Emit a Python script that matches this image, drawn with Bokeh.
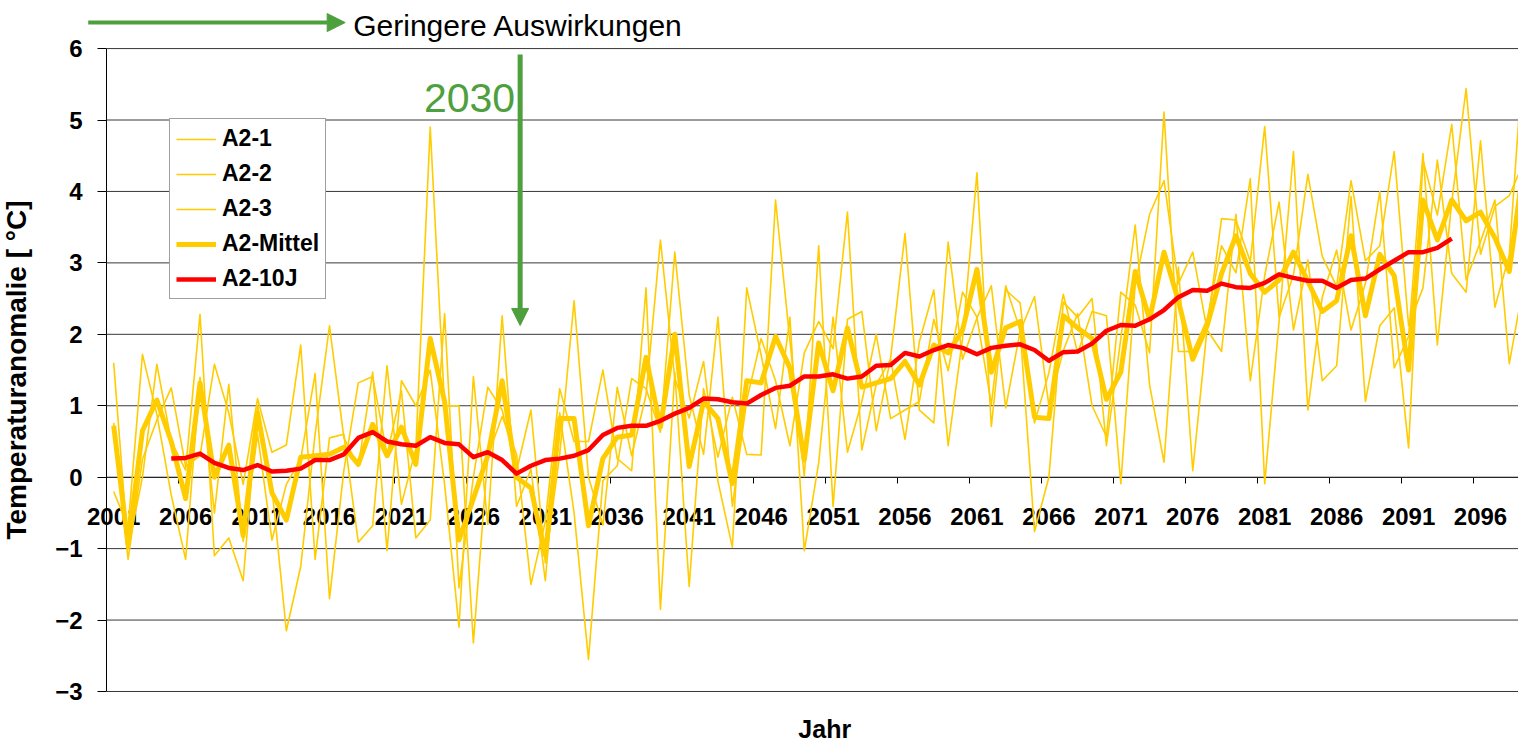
from bokeh.plotting import figure
from bokeh.models import (FixedTicker, Legend, LegendItem, Label, Arrow,
                          NormalHead, Range1d)
from bokeh.embed import file_html
from bokeh.resources import INLINE

# ---------------- data ----------------
years = list(range(2001, 2100))

a2_1 = [1.6, -1.0, 0.0, 1.58, 0.5, 0.1, 2.28, -1.1, -0.85, -1.45,
        1.0, -0.15, -2.15, -1.25, 0.6, 2.12, 0.55, 0.15, 1.47, -1.03,
        1.35, 1.0, 1.5, -0.1, -2.1, 1.41, -0.66, 2.26, -0.41, 0.11,
        -1.45, 0.9, -0.5, -2.55, -0.05, 0.16, 1.38, 1.24, 0.63, 3.15,
        1.15, 0.32, 2.24, -0.41, 1.08, 1.94, 1.35, 0.44, 1.74, 2.18,
        1.8, 3.71, 0.38, 1.3, 1.65, 0.53, 1.9, 2.62, 0.44, 1.94,
        4.26, 0.71, 2.62, 2.44, 0.76, 1.46, 2.56, 1.74, 2.32, 2.26,
        -0.09, 2.7, 3.68, 4.15, 2.71, 3.15, 2.06, 1.76, 3.68, 1.35,
        2.82, 3.85, 2.06, 3.04, 1.35, 1.56, 3.93, 1.06, 2.12, 2.37,
        0.41, 4.44, 3.67, 4.94, 2.76, 3.3, 3.88, 1.59, 2.71]

a2_2 = [-0.2, -0.7, 1.72, 0.88, -0.25, -1.15, 1.4, -0.5, 1.3, -0.9,
        0.6, -0.88, -0.1, 0.25, 1.45, -1.7, 0.1, 1.32, 1.41, 0.32,
        1.21, -0.85, -0.6, 2.29, -1.55, 0.0, 1.26, 0.94, 0.09, 0.94,
        -1.2, 0.32, 2.47, 0.0, -0.67, 1.26, 0.3, 1.15, 3.32, 1.38,
        0.83, 1.62, -0.06, -0.98, 2.65, 1.71, 0.68, 2.24, -1.03, 0.2,
        2.24, 0.35, 1.06, 2.0, 0.82, 0.94, 1.06, 2.21, 1.49, 2.59,
        2.24, 1.02, 2.68, 2.06, -0.76, 0.0, 2.45, 2.24, 2.5, 0.44,
        1.94, 3.53, 1.29, 0.21, 2.94, 0.09, 2.09, 3.62, 3.6, 3.02,
        4.91, 2.24, 2.83, 4.24, 3.09, 2.67, 4.15, 3.03, 3.24, 4.56,
        2.12, 2.65, 4.44, 2.85, 2.59, 4.71, 2.38, 3.11, 6.0]

a2_3 = [0.76, -1.15, 0.25, 0.8, 1.25, 0.15, 0.3, 1.58, 0.9, -0.1,
        1.1, 0.35, 0.45, 1.85, -1.15, 0.55, 0.6, -0.91, -0.68, 1.56,
        -0.38, 0.4, 4.9, 1.0, 1.0, -2.32, 0.3, 0.85, 0.32, -1.5,
        -0.62, 1.24, 0.5, 0.5, 1.5, 0.26, 0.09, 2.65, -1.85, 1.47,
        -1.53, 1.24, 0.28, 1.12, 0.32, 0.31, 3.88, 1.91, 0.01, 3.24,
        -0.41, 2.21, 2.32, 0.65, 1.67, 3.41, 0.94, 0.76, 3.29, 1.65,
        2.23, 2.68, 0.97, 2.04, 2.53, 1.0, 1.77, 2.29, 1.0, 0.57,
        2.59, 2.41, 1.74, 5.11, 1.76, 1.76, 2.21, 3.24, 2.86, 4.18,
        -0.09, 2.18, 4.56, 0.94, 2.52, 3.18, 2.06, 2.71, 4.0, 1.53,
        1.97, 4.53, 1.85, 3.85, 5.44, 3.12, 3.79, 3.94, 4.41]

a2_mittel = [0.72, -0.95, 0.65, 1.08, 0.5, -0.3, 1.32, 0.0, 0.45, -0.82,
             0.9, -0.22, -0.6, 0.28, 0.3, 0.32, 0.42, 0.18, 0.74, 0.3,
             0.7, 0.18, 1.94, 1.06, -0.88, -0.3, 0.3, 1.35, 0.0, -0.15,
             -1.09, 0.82, 0.82, -0.68, 0.26, 0.56, 0.59, 1.68, 0.7, 2.0,
             0.15, 1.06, 0.82, -0.09, 1.35, 1.32, 1.97, 1.53, 0.24, 1.88,
             1.21, 2.09, 1.26, 1.32, 1.38, 1.62, 1.29, 1.85, 1.74, 2.06,
             2.91, 1.47, 2.09, 2.18, 0.84, 0.82, 2.26, 2.09, 1.94, 1.09,
             1.47, 2.88, 2.21, 3.15, 2.47, 1.65, 2.12, 2.85, 3.38, 2.85,
             2.59, 2.76, 3.15, 2.74, 2.32, 2.47, 3.38, 2.26, 3.12, 2.82,
             1.5, 3.88, 3.32, 3.88, 3.59, 3.71, 3.35, 2.88, 4.37]

years_10j = list(range(2005, 2095))
a2_10j = [0.26, 0.27, 0.33, 0.2, 0.13, 0.1, 0.17, 0.08, 0.09, 0.12,
          0.24, 0.24, 0.32, 0.55, 0.63, 0.5, 0.46, 0.44, 0.56, 0.48,
          0.46, 0.28, 0.35, 0.24, 0.05, 0.16, 0.24, 0.26, 0.3, 0.38,
          0.59, 0.69, 0.72, 0.72, 0.79, 0.89, 0.97, 1.1, 1.09, 1.05,
          1.03, 1.15, 1.25, 1.28, 1.41, 1.41, 1.44, 1.38, 1.41, 1.56,
          1.57, 1.74, 1.69, 1.78, 1.85, 1.81, 1.72, 1.81, 1.84, 1.86,
          1.78, 1.63, 1.75, 1.76, 1.87, 2.05, 2.13, 2.12, 2.21, 2.34,
          2.52, 2.62, 2.61, 2.71, 2.66, 2.65, 2.72, 2.84, 2.79, 2.75,
          2.75, 2.65, 2.76, 2.78, 2.91, 3.03, 3.15, 3.15, 3.21, 3.34]

y_ticks = [-3, -2, -1, 0, 1, 2, 3, 4, 5, 6]
x_tick_years = list(range(2001, 2100, 5))
x_tick_labels = [str(y) for y in x_tick_years]
x_tick_marks = [y + 4.5 for y in x_tick_years]

YELLOW = "#FFCC00"
RED = "#FF0000"
GREEN = "#4E9F3D"
FONT = "Liberation Sans"

# ---------------- figure (frame fills the whole canvas) ----------------
X0, X1 = 2000.5, 2100.5   # category axis bounds
p = figure(width=1518, height=746, output_backend="svg", toolbar_location=None,
           x_range=Range1d(1993.133, 2098.64), y_range=Range1d(-3.770, 6.673),
           min_border_left=0, min_border_right=0, min_border_top=0,
           min_border_bottom=0, background_fill_color="white",
           border_fill_color="white")
p.outline_line_color = None
p.xgrid.visible = False
p.ygrid.visible = False

# horizontal grid lines across the plot area only
p.segment(x0=[X0] * len(y_ticks), y0=y_ticks, x1=[X1] * len(y_ticks), y1=y_ticks,
          line_color="#383838", line_width=1)

# y axis, fixed at the left edge of the plot area
yax = p.yaxis[0]
yax.fixed_location = X0
yax.bounds = (-3, 6)
yax.level = "underlay"
yax.ticker = FixedTicker(ticks=y_ticks)
yax.axis_line_color = "black"
yax.major_tick_line_color = "black"
yax.major_tick_out = 9
yax.major_tick_in = 0
yax.minor_tick_line_color = None
yax.major_label_standoff = 15
yax.major_label_text_font = FONT
yax.major_label_text_font_style = "bold"
yax.major_label_text_font_size = "24px"
yax.major_label_text_color = "black"
yax.axis_label = "Temperaturanomalie [ °C]"
yax.axis_label_text_font = FONT
yax.axis_label_text_font_style = "bold"
yax.axis_label_text_font_size = "28px"
yax.axis_label_text_color = "black"
yax.axis_label_standoff = 20

# x axis drawn at y = 0
xax = p.xaxis[0]
xax.fixed_location = 0
xax.bounds = (X0, X1)
xax.level = "underlay"
xax.ticker = FixedTicker(ticks=x_tick_years, minor_ticks=x_tick_marks)
xax.major_label_overrides = {y: s for y, s in zip(x_tick_years, x_tick_labels)}
xax.axis_line_color = "black"
xax.major_tick_line_color = None
xax.major_tick_out = 0
xax.major_tick_in = 0
xax.minor_tick_line_color = "black"
xax.minor_tick_out = 6
xax.minor_tick_in = 0
xax.major_label_standoff = 25
xax.major_label_text_font = FONT
xax.major_label_text_font_style = "bold"
xax.major_label_text_font_size = "24px"
xax.major_label_text_color = "black"

# ---------------- series ----------------
r1 = p.line(years, a2_1, line_color=YELLOW, line_width=1.6, line_join="round")
r2 = p.line(years, a2_2, line_color=YELLOW, line_width=1.6, line_join="round")
r3 = p.line(years, a2_3, line_color=YELLOW, line_width=1.6, line_join="round")
rm = p.line(years, a2_mittel, line_color=YELLOW, line_width=5, line_join="round")
rr = p.line(years_10j, a2_10j, line_color=RED, line_width=4.5, line_join="round")

legend = Legend(items=[LegendItem(label="A2-1", renderers=[r1]),
                       LegendItem(label="A2-2", renderers=[r2]),
                       LegendItem(label="A2-3", renderers=[r3]),
                       LegendItem(label="A2-Mittel", renderers=[rm]),
                       LegendItem(label="A2-10J", renderers=[rr])],
                location=(169, 447))
legend.label_text_font = FONT
legend.label_text_font_style = "bold"
legend.label_text_font_size = "23px"
legend.label_text_color = "black"
legend.glyph_width = 40
legend.glyph_height = 26
legend.label_height = 26
legend.label_standoff = 6
legend.padding = 6
legend.spacing = 8
legend.margin = 0
legend.border_line_color = "#404040"
legend.border_line_width = 1
legend.background_fill_color = "white"
legend.background_fill_alpha = 1.0
p.add_layout(legend)

# ---------------- annotations ----------------
p.add_layout(Arrow(end=NormalHead(size=18, fill_color=GREEN, line_color=GREEN),
                   x_start=1999.23, y_start=6.364, x_end=2017.09, y_end=6.364,
                   line_color=GREEN, line_width=4))
p.add_layout(Label(x=2017.65, y=6.322, text="Geringere Auswirkungen",
                   text_font=FONT, text_font_size="30px",
                   text_baseline="middle", text_color="black"))
p.add_layout(Arrow(end=NormalHead(size=17, fill_color=GREEN, line_color=GREEN),
                   x_start=2029.25, y_start=5.916, x_end=2029.25, y_end=2.124,
                   line_color=GREEN, line_width=5))
p.add_layout(Label(x=2028.9, y=5.308, text="2030", text_font=FONT,
                   text_font_size="41px", text_align="right",
                   text_baseline="middle", text_color=GREEN))
p.add_layout(Label(x=2050.42, y=-3.532, text="Jahr", text_font=FONT,
                   text_font_style="bold", text_font_size="25px",
                   text_align="center", text_baseline="middle",
                   text_color="black"))

open("out.html", "w").write(file_html(p, INLINE))
